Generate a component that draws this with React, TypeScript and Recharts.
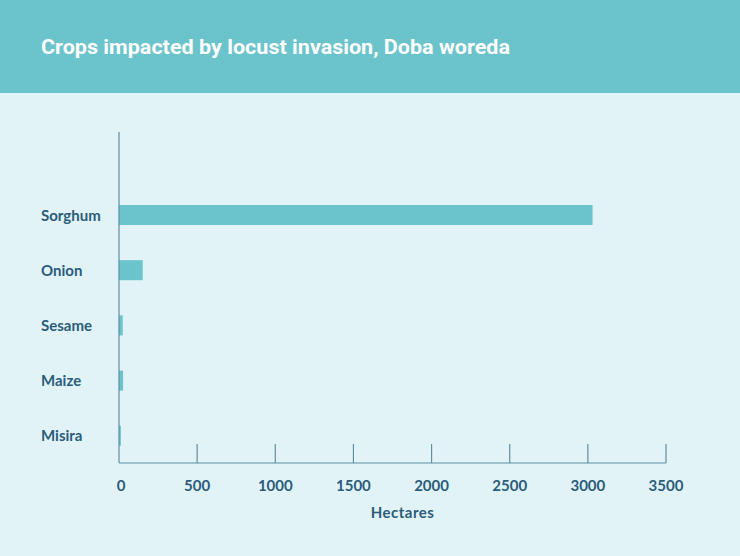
import { BarChart, Bar, XAxis, YAxis } from 'recharts';

const crops = ['Sorghum', 'Onion', 'Sesame', 'Maize', 'Misira'];
const hectares = [3030, 152, 24, 26, 12];
const xTicks = [0, 500, 1000, 1500, 2000, 2500, 3000, 3500];

const data = crops.map((crop, i) => ({ crop, hectares: hectares[i] }));

const TEXT = '#2b5c7c';
const AXIS = '#5f8ea3';
const TEAL = '#6bc3cb';

const CropTick = ({ y, payload }: { y?: number; payload?: { value: string } }) => (
  <text x={41} y={y} dy={6} fill={TEXT} fontSize={15} fontWeight={700} fontFamily="Lato">
    {payload?.value}
  </text>
);

const HectareTick = ({ x, y, payload }: { x?: number; y?: number; payload?: { value: number } }) => (
  <g>
    {payload?.value !== 0 && <line x1={x} x2={x} y1={(y ?? 0) - 19} y2={y} stroke={AXIS} strokeWidth={1.2} />}
    <text x={(x ?? 0) + (payload?.value === 0 ? 2 : 0)} y={(y ?? 0) + 28} textAnchor="middle" fill={TEXT} fontSize={15} fontWeight={700} fontFamily="Lato">
      {payload?.value}
    </text>
  </g>
);

export default function App() {
  return (
    <div style={{ position: 'fixed', top: 0, left: 0, width: 740, height: 556, background: '#e1f3f6' }}>
      <svg width={740} height={93} style={{ display: 'block' }}>
        <rect width={740} height={93} fill={TEAL} />
        <text
          x={41}
          y={54}
          fill="#fff"
          fontFamily="Roboto"
          fontWeight={700}
          fontSize={20}
          textLength={469}
          lengthAdjust="spacingAndGlyphs"
        >
          Crops impacted by locust invasion, Doba woreda
        </text>
      </svg>
      <BarChart
        width={740}
        height={463}
        data={data}
        layout="vertical"
        margin={{ top: 39, right: 74, bottom: 33, left: 0 }}
      >
        <XAxis
          type="number"
          domain={[0, 3500]}
          ticks={xTicks}
          interval={0}
          height={60}
          axisLine={{ stroke: AXIS, strokeWidth: 1.2 }}
          tickLine={false}
          tickSize={0}
          tickMargin={0}
          tick={<HectareTick />}
          label={{
            value: 'Hectares',
            position: 'insideBottom',
            dx: 10,
            dy: 0,
            fill: TEXT,
            fontSize: 15,
            fontWeight: 700,
            fontFamily: 'Lato',
            letterSpacing: 0.5,
          }}
        />
        <YAxis
          type="category"
          dataKey="crop"
          width={119}
          padding={{ top: 55, bottom: 0 }}
          axisLine={{ stroke: AXIS, strokeWidth: 1.2 }}
          tickLine={false}
          tick={<CropTick />}
        />
        <Bar dataKey="hectares" fill={TEAL} barSize={20} isAnimationActive={false} />
      </BarChart>
    </div>
  );
}
